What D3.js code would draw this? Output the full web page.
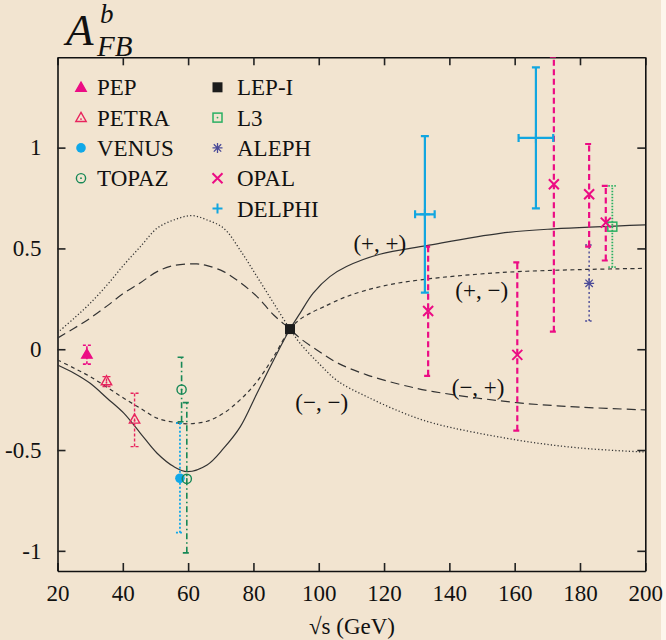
<!DOCTYPE html>
<html>
<head>
<meta charset="utf-8">
<script src="https://cdn.jsdelivr.net/npm/d3@7"></script>
<style>
  body { margin: 0; background: #fdf6ec; }
  svg { display: block; }
  text { font-family: "Liberation Serif", "Times New Roman", serif; fill: #111; }
</style>
</head>
<body>
<div id="chart"></div>
<script>
// measured points: [sqrt(s), A_FB, lower, upper, x half-width]
const pep    = [[29.0, -0.025, -0.074, 0.02]];
const petra  = [[35.0, -0.157, -0.185, -0.136], [43.6, -0.347, -0.483, -0.218]];
const venus  = [[57.5, -0.64, -0.91, -0.367]];
const topaz  = [[58.0, -0.20, -0.36, -0.04], [59.6, -0.643, -1.01, -0.265]];
const lepI   = [[91.2, 0.10]];
const l3     = [[189.9, 0.608, 0.407, 0.81]];
const aleph  = [[182.8, 0.327, 0.14, 0.517]];
const opal   = [[133.5, 0.19, -0.132, 0.509], [160.8, -0.028, -0.404, 0.431],
                [172.0, 0.818, 0.087, 1.45], [182.8, 0.769, 0.509, 1.018],
                [187.9, 0.628, 0.44, 0.81]];
const delphi = [[132.5, 0.669, 0.281, 1.057, 3.0], [166.5, 1.048, 0.699, 1.398, 5.3]];

// model curves (+,+) (+,-) (-,+) (-,-)
const curvePP = [[20,-0.078],[25.1,-0.119],[30,-0.169],[35.2,-0.243],[40.3,-0.317],[45.4,-0.417],[50.5,-0.516],[55.6,-0.582],[59.7,-0.607],[65.8,-0.574],[70.9,-0.491],[76,-0.384],[81.1,-0.218],[86.2,-0.053],[91.2,0.1],[94.25,0.178],[98.3,0.278],[103.4,0.36],[108.5,0.41],[118.7,0.471],[133,0.514],[155.5,0.575],[172,0.597],[200,0.617]];
const curvePM = [[20,-0.053],[25.1,-0.094],[30,-0.136],[35.2,-0.189],[40.3,-0.243],[45.4,-0.293],[50.5,-0.342],[55.6,-0.362],[59.7,-0.37],[65.8,-0.357],[70.9,-0.317],[76,-0.25],[81.1,-0.16],[86.2,-0.037],[91.2,0.1],[94.25,0.148],[98.3,0.186],[101.5,0.21],[108.5,0.261],[118.7,0.31],[131,0.344],[155.5,0.38],[180,0.395],[200,0.401]];
const curveMP = [[20,0.055],[25.1,0.104],[30,0.154],[35.2,0.215],[40.3,0.278],[45.4,0.33],[50.5,0.385],[55.6,0.415],[62.7,0.423],[65.8,0.415],[70.9,0.385],[76,0.33],[81.1,0.261],[86.2,0.17],[91.2,0.1],[94.25,0.055],[100,-0.01],[106,-0.07],[114.7,-0.127],[125,-0.175],[135.1,-0.21],[160.6,-0.265],[180,-0.287],[200,-0.301]];
const curveMM = [[20,0.082],[25.1,0.154],[30,0.228],[35.2,0.319],[40.3,0.418],[45.4,0.509],[50.5,0.6],[55.6,0.641],[61.2,0.663],[65.8,0.641],[70.9,0.6],[76,0.49],[81.1,0.36],[86.2,0.228],[91.2,0.1],[94.25,0.03],[100,-0.07],[106,-0.16],[114.7,-0.235],[125,-0.31],[135.1,-0.367],[160.6,-0.45],[180,-0.49],[200,-0.51]];

const curveNames = ["(+, +)", "(+, \u2212)", "(\u2212, +)", "(\u2212, \u2212)"];
const curveLabelAt = [[118.7, 0.529], [149.9, 0.294], [148.8, -0.185], [100.9, -0.26]];

const xTicks = [20, 40, 60, 80, 100, 120, 140, 160, 180, 200];
const yTicks = [-1, -0.5, 0, 0.5, 1];
const yTickLabels = ["-1", "-0.5", "0", "0.5", "1"];

const W = 666, H = 640;
const pLeft = 57.5, pRight = 645.3, pTop = 57.3, pBottom = 571;
const fs = 23;

const svg = d3.select("#chart").append("svg")
    .attr("width", W)
    .attr("height", H);

svg.append("rect").attr("width", 661).attr("height", H).attr("fill", "#f2e4d0");

const x = d3.scaleLinear().domain([20, 200]).range([pLeft, pRight]);
const y = d3.scaleLinear().domain([-1.1, 1.448]).range([pBottom, pTop]);

svg.append("clipPath").attr("id", "plotclip")
  .append("rect")
    .attr("x", pLeft).attr("y", pTop)
    .attr("width", pRight - pLeft).attr("height", pBottom - pTop);

// axes, ticks pointing inward on all four sides
const axisB = d3.axisBottom(x).tickValues(xTicks).tickSizeInner(-8).tickSizeOuter(0).tickPadding(14);
const axisT = d3.axisTop(x).tickValues(xTicks).tickSizeInner(-8).tickSizeOuter(0).tickFormat("");
const axisL = d3.axisLeft(y).tickValues(yTicks).tickSizeInner(-8).tickSizeOuter(0).tickPadding(16)
    .tickFormat((d, i) => yTickLabels[i]);
const axisR = d3.axisRight(y).tickValues(yTicks).tickSizeInner(-8).tickSizeOuter(0).tickFormat("");

function styleAxis(g) {
  g.select(".domain").attr("stroke", "#111").attr("stroke-width", 1.6);
  g.selectAll(".tick line").attr("stroke", "#222").attr("stroke-width", 1.6);
  g.selectAll(".tick text").attr("font-size", fs).attr("font-family", "Liberation Serif").attr("fill", "#111");
}
svg.append("g").attr("transform", `translate(0,${pBottom})`).call(axisB).call(styleAxis);
svg.append("g").attr("transform", `translate(0,${pTop})`).call(axisT).call(styleAxis);
svg.append("g").attr("transform", `translate(${pLeft},0)`).call(axisL).call(styleAxis);
svg.append("g").attr("transform", `translate(${pRight},0)`).call(axisR).call(styleAxis);

// title and x label
svg.append("text").attr("font-style", "italic").attr("x", 66).attr("y", 45).attr("font-size", 45).text("A");
svg.append("text").attr("font-style", "italic").attr("x", 100).attr("y", 23).attr("font-size", 27).text("b");
svg.append("text").attr("font-style", "italic").attr("x", 97).attr("y", 56).attr("font-size", 29).text("FB");

svg.append("text")
    .attr("x", 352).attr("y", 634)
    .attr("text-anchor", "middle")
    .attr("font-size", fs)
    .text("\u221As (GeV)");

// model curves
const plot = svg.append("g").attr("clip-path", "url(#plotclip)");
const line = d3.line().x(d => x(d[0])).y(d => y(d[1])).curve(d3.curveCatmullRom.alpha(0.5));
const curves = [curvePP, curvePM, curveMP, curveMM];
const dashes = [null, "4,3.5", "9,5", "1.2,2.2"];
curves.forEach((c, i) => {
  plot.append("path")
      .datum(c)
      .attr("d", line)
      .attr("fill", "none")
      .attr("stroke", "#333")
      .attr("stroke-width", i === 3 ? 1.3 : 1.2)
      .attr("stroke-dasharray", dashes[i]);
});

svg.selectAll(".clabel")
  .data(curveNames)
  .enter()
  .append("text")
    .attr("class", "clabel")
    .attr("x", (d, i) => x(curveLabelAt[i][0]))
    .attr("y", (d, i) => y(curveLabelAt[i][1]))
    .attr("dy", "0.35em")
    .attr("text-anchor", "middle")
    .attr("font-size", fs)
    .text(d => d);

// markers
function marker(g, type, cx, cy, color) {
  const p = d3.path();
  if (type === "triUp" || type === "triOpen") {
    const s = 5.2;
    g.append("path")
        .attr("d", `M${cx},${cy - s}L${cx + s},${cy + s * 0.75}L${cx - s},${cy + s * 0.75}Z`)
        .attr("fill", type === "triUp" ? color : "none")
        .attr("stroke", color).attr("stroke-width", 1.4);
    if (type === "triOpen") g.append("circle").attr("cx", cx).attr("cy", cy + 1.5).attr("r", 0.9).attr("fill", color);
  } else if (type === "dot") {
    g.append("circle").attr("cx", cx).attr("cy", cy).attr("r", 4.8).attr("fill", color);
  } else if (type === "circOpen") {
    g.append("circle").attr("cx", cx).attr("cy", cy).attr("r", 4.6)
        .attr("fill", "none").attr("stroke", color).attr("stroke-width", 1.4);
    g.append("circle").attr("cx", cx).attr("cy", cy).attr("r", 0.9).attr("fill", color);
  } else if (type === "sqFill") {
    g.append("rect").attr("x", cx - 5).attr("y", cy - 5).attr("width", 10).attr("height", 10).attr("fill", color);
  } else if (type === "sqOpen") {
    g.append("rect").attr("x", cx - 4.5).attr("y", cy - 4.5).attr("width", 9).attr("height", 9)
        .attr("fill", "none").attr("stroke", color).attr("stroke-width", 1.5);
    g.append("circle").attr("cx", cx).attr("cy", cy).attr("r", 0.9).attr("fill", color);
  } else {
    const s = 5;
    if (type === "plus" || type === "star") {
      p.moveTo(cx - s, cy); p.lineTo(cx + s, cy);
      p.moveTo(cx, cy - s); p.lineTo(cx, cy + s);
    }
    if (type === "cross" || type === "star") {
      const t = type === "star" ? 3.7 : s;
      p.moveTo(cx - t, cy - t); p.lineTo(cx + t, cy + t);
      p.moveTo(cx - t, cy + t); p.lineTo(cx + t, cy - t);
    }
    g.append("path").attr("d", p.toString()).attr("fill", "none")
        .attr("stroke", color).attr("stroke-width", type === "star" ? 1.3 : 2);
  }
}

const series = [
  {name: "PEP",    pts: pep,    type: "triUp",   color: "#ec0c84", dash: "3,2",   ew: 1.6},
  {name: "PETRA",  pts: petra,  type: "triOpen", color: "#e8245e", dash: "3,2",   ew: 1.4},
  {name: "VENUS",  pts: venus,  type: "dot",     color: "#10a8e8", dash: "2,2",   ew: 1.8},
  {name: "TOPAZ",  pts: topaz,  type: "circOpen",color: "#178856", dash: "6,3,1.5,3", ew: 1.6},
  {name: "LEP-I",  pts: lepI,   type: "sqFill",  color: "#1c1c1c", dash: null,    ew: 1.4},
  {name: "L3",     pts: l3,     type: "sqOpen",  color: "#2ab062", dash: "1.5,1.5", ew: 1.8},
  {name: "ALEPH",  pts: aleph,  type: "star",    color: "#4a4a98", dash: "2,2.5", ew: 1.4},
  {name: "OPAL",   pts: opal,   type: "cross",   color: "#ec0c84", dash: "6,3.5", ew: 2.2},
  {name: "DELPHI", pts: delphi, type: "plus",    color: "#12a6e0", dash: null,    ew: 2.2}
];

const bars = svg.append("g").attr("clip-path", "url(#plotclip)");
const cap = 4;
series.forEach(s => {
  s.pts.forEach(d => {
    const px = x(d[0]);
    if (d.length > 2) {
      const p = d3.path();
      p.moveTo(px, y(d[2])); p.lineTo(px, y(d[3]));
      p.moveTo(px - cap, y(d[2])); p.lineTo(px + cap, y(d[2]));
      p.moveTo(px - cap, y(d[3])); p.lineTo(px + cap, y(d[3]));
      if (d.length > 4) {
        const py = y(d[1]);
        p.moveTo(x(d[0] - d[4]), py); p.lineTo(x(d[0] + d[4]), py);
        p.moveTo(x(d[0] - d[4]), py - cap); p.lineTo(x(d[0] - d[4]), py + cap);
        p.moveTo(x(d[0] + d[4]), py - cap); p.lineTo(x(d[0] + d[4]), py + cap);
      }
      bars.append("path").attr("d", p.toString())
          .attr("fill", "none")
          .attr("stroke", s.color)
          .attr("stroke-width", s.ew)
          .attr("stroke-dasharray", s.dash);
    }
  });
});
series.forEach(s => {
  s.pts.forEach(d => marker(bars, s.type, x(d[0]), y(d[1]), s.color));
});

// legend, two columns
const legend = svg.append("g");
series.forEach((s, i) => {
  const col = i < 4 ? 0 : 1;
  const row = i < 4 ? i : i - 4;
  const ly = 87.3 + row * 30.3;
  const mx = col === 0 ? 81 : 217.5;
  const tx = col === 0 ? 97 : 237;
  marker(legend, s.type, mx, ly, s.color);
  legend.append("text")
      .attr("x", tx).attr("y", ly)
      .attr("dy", "0.35em")
      .attr("font-size", fs)
      .text(s.name);
});
</script>
</body>
</html>
